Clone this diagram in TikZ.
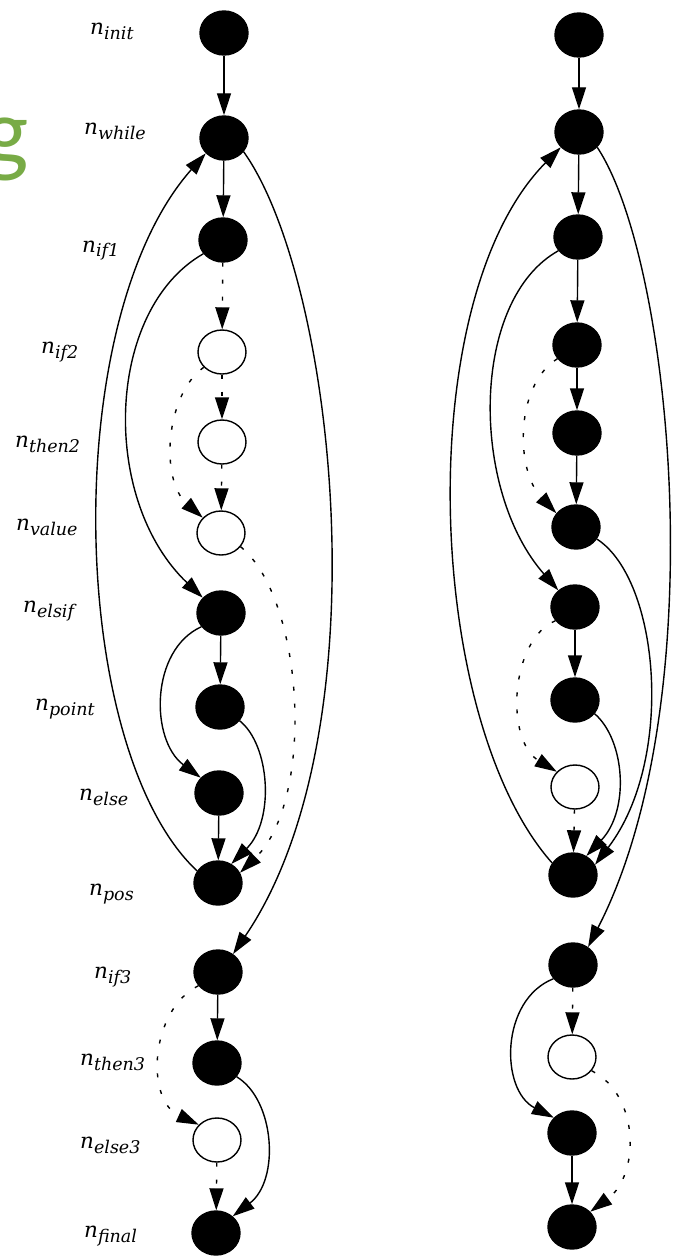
\documentclass[tikz,border=0pt]{standalone}
\usepackage{fontspec}
\setmainfont{DejaVu Serif}
\newfontfamily\gfont{Carlito}
\usetikzlibrary{arrows.meta,shapes.geometric}
\definecolor{ggreen}{RGB}{120,171,70}
\newcommand\nlab[1]{\textit{n}\raisebox{-5pt}{\fontsize{17.5}{17.5}\selectfont\textit{#1}}}
\begin{document}
\begin{tikzpicture}[x=1pt,y=-1pt,
  vtx/.style={ellipse, draw=black, line width=1.4pt, minimum width=48pt, minimum height=44pt, inner sep=0pt},
  solidnode/.style={vtx, fill=black},
  hollownode/.style={vtx, fill=white},
  arr/.style={line width=1.4pt, -{Triangle[length=22pt,width=14pt]}},
  darr/.style={arr, dash pattern=on 4pt off 13pt},
  lbl/.style={anchor=base west, inner sep=0pt, font=\fontsize{21.5}{21.5}\selectfont}
]
\useasboundingbox (0,0) rectangle (674,1257);
\fill[white] (0,0) rectangle (674,1257);

\node[anchor=base east, inner sep=0pt, text=ggreen, font=\gfont\fontsize{96}{96}\selectfont] (gg) at (29,165) {g};

% left column
\node[solidnode] (init) at (224,33) {};
\node[solidnode] (while) at (224,138) {};
\node[solidnode] (if1) at (223,240) {};
\node[hollownode] (if2) at (222,352) {};
\node[hollownode] (then2) at (222,442) {};
\node[hollownode] (value) at (221,533) {};
\node[solidnode] (elsif) at (221,613) {};
\node[solidnode] (point) at (220,707) {};
\node[solidnode] (else) at (219,793) {};
\node[solidnode] (pos) at (218,883) {};
\node[solidnode] (if3) at (218,972) {};
\node[solidnode] (then3) at (217,1063) {};
\node[hollownode] (else3) at (217,1140) {};
\node[solidnode] (final) at (216,1233) {};

% labels
\node[lbl] (l1) at (90,35) {\nlab{init}};
\node[lbl] (l2) at (84,135) {\nlab{while}};
\node[lbl] (l3) at (82,252) {\nlab{if1}};
\node[lbl] (l4) at (41,353) {\nlab{if2}};
\node[lbl] (l5) at (15,447) {\nlab{then2}};
\node[lbl] (l6) at (16,530) {\nlab{value}};
\node[lbl] (l7) at (23,612) {\nlab{elsif}};
\node[lbl] (l8) at (35,710) {\nlab{point}};
\node[lbl] (l9) at (79,800) {\nlab{else}};
\node[lbl] (l10) at (89,895) {\nlab{pos}};
\node[lbl] (l11) at (94,978) {\nlab{if3}};
\node[lbl] (l12) at (80,1065) {\nlab{then3}};
\node[lbl] (l13) at (80,1148) {\nlab{else3}};
\node[lbl] (l14) at (84,1237) {\nlab{final}};

% right column
\node[solidnode] (r1) at (579,35) {};
\node[solidnode] (r2) at (579,132) {};
\node[solidnode] (r3) at (578,237) {};
\node[solidnode] (r4) at (577,345) {};
\node[solidnode] (r5) at (577,433) {};
\node[solidnode] (r6) at (576,527) {};
\node[solidnode] (r7) at (575,607) {};
\node[solidnode] (r8) at (575,700) {};
\node[hollownode] (r9) at (575,787) {};
\node[solidnode] (r10) at (573,875) {};
\node[solidnode] (r11) at (573,965) {};
\node[hollownode] (r12) at (572,1057) {};
\node[solidnode] (r13) at (572,1133) {};
\node[solidnode] (r14) at (572,1227) {};

% left edges
\draw[arr] (init) -- (while);
\draw[arr] (while) -- (if1);
\draw[darr] (if1) -- (if2);
\draw[darr] (if2) -- (then2);
\draw[darr] (then2) -- (value);
\draw[arr] (elsif) -- (point);
\draw[arr] (else) -- (pos);
\draw[arr] (if3) -- (then3);
\draw[darr] (else3) -- (final);
\draw[arr] (while.-35) .. controls (335,280) and (385,730) .. (if3.50);
\draw[arr] (pos.150) .. controls (68,750) and (58,320) .. (while.220);
\draw[arr] (if1.215) .. controls (105,310) and (100,500) .. (elsif.140);
\draw[darr] (if2.220) .. controls (165,395) and (160,480) .. (value.140);
\draw[darr] (value.-35) .. controls (305,600) and (315,800) .. (pos.25);
\draw[arr] (elsif.215) .. controls (150,650) and (150,740) .. (else.140);
\draw[arr] (point.-35) .. controls (270,745) and (275,820) .. (pos.55);
\draw[darr] (if3.215) .. controls (150,1010) and (145,1100) .. (else3.140);
\draw[arr] (then3.-35) .. controls (275,1100) and (280,1180) .. (final.45);

% right edges
\draw[arr] (r1) -- (r2);
\draw[arr] (r2) -- (r3);
\draw[arr] (r3) -- (r4);
\draw[arr] (r4) -- (r5);
\draw[arr] (r5) -- (r6);
\draw[arr] (r7) -- (r8);
\draw[darr] (r9) -- (r10);
\draw[darr] (r11) -- (r12);
\draw[arr] (r13) -- (r14);
\draw[arr] (r2.-40) .. controls (672,260) and (715,700) .. (r11.50);
\draw[arr] (r10.150) .. controls (425,720) and (410,300) .. (r2.220);
\draw[arr] (r3.215) .. controls (470,300) and (470,490) .. (r7.135);
\draw[darr] (r4.215) .. controls (515,385) and (515,470) .. (r6.145);
\draw[arr] (r6.-30) .. controls (660,580) and (675,760) .. (r10.25);
\draw[arr] (r8.-35) .. controls (625,740) and (630,810) .. (r10.55);
\draw[darr] (r7.215) .. controls (510,640) and (505,740) .. (r9.140);
\draw[arr] (r11.215) .. controls (500,1000) and (500,1090) .. (r13.140);
\draw[darr] (r12.-35) .. controls (640,1095) and (640,1175) .. (r14.40);
\end{tikzpicture}
\end{document}
